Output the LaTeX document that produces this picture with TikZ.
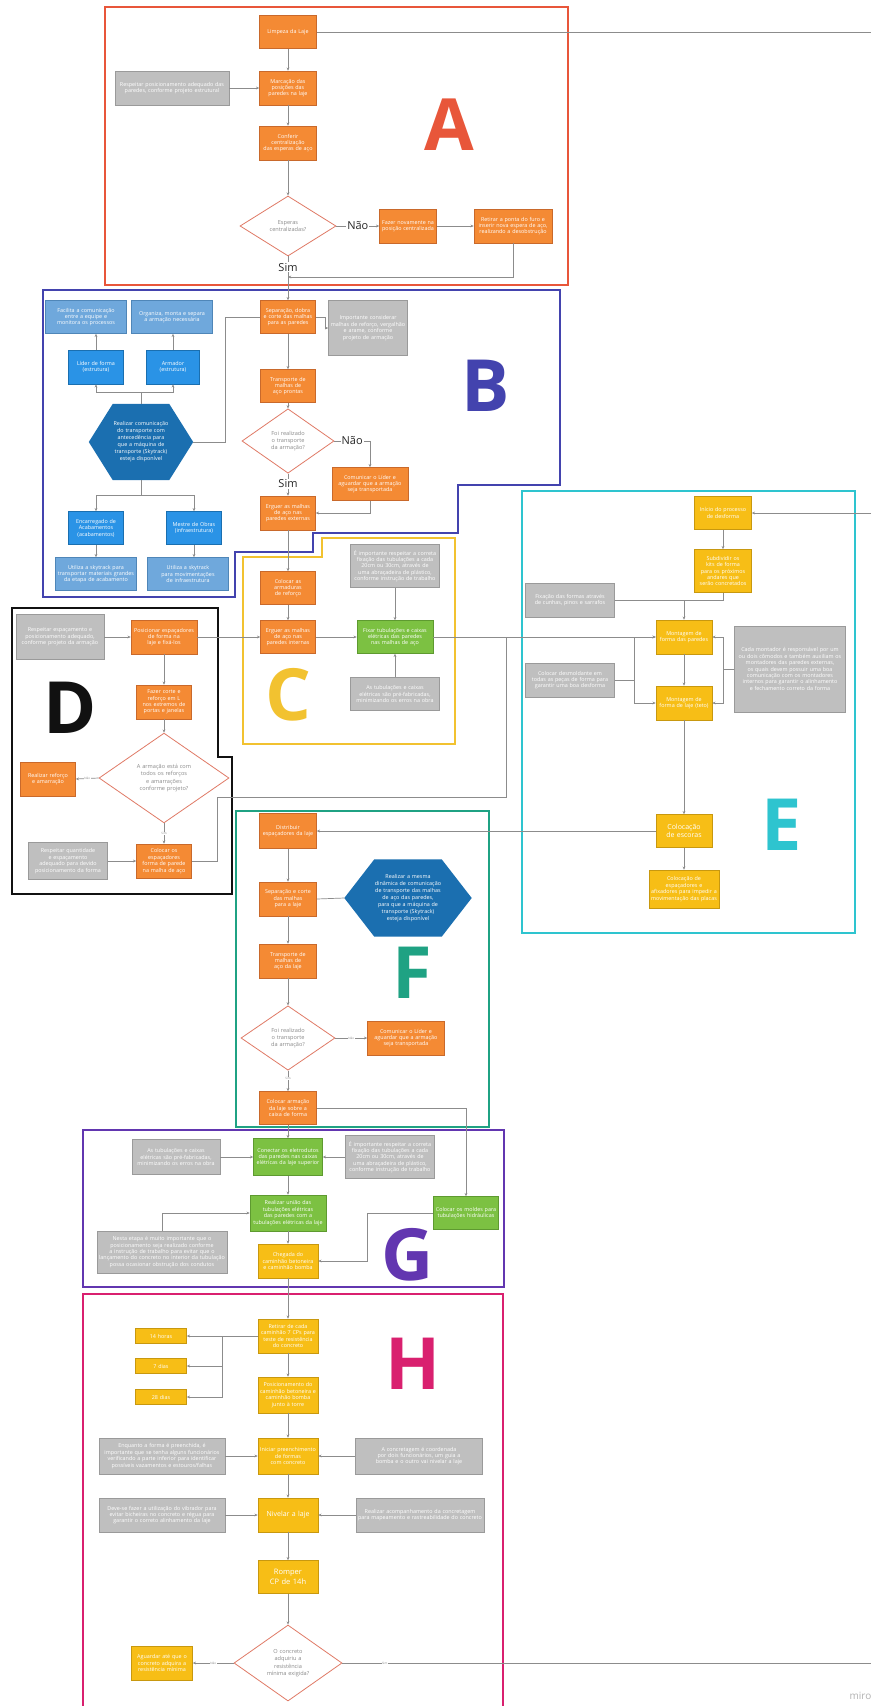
\documentclass[tikz,border=0pt]{standalone}
\usepackage{fontspec}
\setmainfont{Open Sans}
\usetikzlibrary{shapes.geometric,arrows.meta,calc}
\pgfdeclarelayer{bg}
\pgfsetlayers{bg,main}
\hyphenpenalty=10000
\exhyphenpenalty=10000

\definecolor{corange}{HTML}{F48A34}
\definecolor{corangeD}{HTML}{C9692B}
\definecolor{cgray}{HTML}{BFBFBF}
\definecolor{cgrayD}{HTML}{9A9A9A}
\definecolor{cblue}{HTML}{2A93E6}
\definecolor{cblueD}{HTML}{1A6FB0}
\definecolor{clblue}{HTML}{6FA8DC}
\definecolor{clblueD}{HTML}{4F86B8}
\definecolor{chex}{HTML}{1B6FB0}
\definecolor{cgreen}{HTML}{7CC142}
\definecolor{cgreenD}{HTML}{5E9A30}
\definecolor{cyellow}{HTML}{F7BE16}
\definecolor{cyellowD}{HTML}{C8980F}
\definecolor{cdia}{HTML}{E07A66}
\definecolor{cdtext}{HTML}{8A8A8A}
\definecolor{cline}{HTML}{8C8C8C}
\definecolor{frA}{HTML}{E8563A}
\definecolor{frB}{HTML}{4343AE}
\definecolor{frC}{HTML}{F2C230}
\definecolor{frD}{HTML}{111111}
\definecolor{frE}{HTML}{2EC4CF}
\definecolor{frF}{HTML}{1FA283}
\definecolor{frG}{HTML}{6236B0}
\definecolor{frH}{HTML}{D9206F}

\tikzset{
  sz/.code 2 args={\pgfmathsetmacro\bxtw{#1-4}%
    \edef\bxtmp{\noexpand\pgfkeysalso{minimum width=#1pt, minimum height=#2pt, text width=\bxtw pt}}\bxtmp},
  bx/.style={rectangle, draw, line width=0.6pt, inner sep=2pt, align=center,
    text=white, font=\fontsize{5.4}{6.4}\selectfont},
  ob/.style={bx, fill=corange, draw=corangeD},
  gb/.style={bx, fill=cgray, draw=cgrayD},
  bb/.style={bx, fill=cblue, draw=cblueD},
  lb/.style={bx, fill=clblue, draw=clblueD},
  grb/.style={bx, fill=cgreen, draw=cgreenD},
  yb/.style={bx, fill=cyellow, draw=cyellowD},
  dm/.style={diamond, draw=cdia, fill=white, line width=0.8pt, inner sep=0pt,
    align=center, text=cdtext, font=\fontsize{5.6}{7.4}\selectfont},
  hexlbl/.style={rectangle, inner sep=0pt, align=center, text=white,
    font=\fontsize{5.4}{7}\selectfont},
  frame/.style={line width=2.4pt},
  letter/.style={anchor=base, font=\fontsize{72}{72}\selectfont\bfseries},
  ln/.style={draw=cline, line width=0.7pt},
  ar/.style={ln, -{Stealth[length=3.2pt,width=2.8pt]}},
  big/.style={fill=white, inner sep=1pt, text=black!85, font=\fontsize{11}{11}\selectfont},
  tinylbl/.style={fill=white, inner sep=0.5pt, text=cdtext, font=\fontsize{3}{3}\selectfont},
}

\begin{document}
\begin{tikzpicture}[x=1pt,y=-1pt]
\useasboundingbox (0,0) rectangle (871,1706);
\begin{pgfonlayer}{bg}
\fill[white] (0,0) rectangle (871,1706);
\end{pgfonlayer}

% ---------- section frames ----------
\draw[frame, frA] (105,7) rectangle (568,285);
\draw[frame, frB] (43,290) -- (560,290) -- (560,485) -- (458,485) -- (458,533)
  -- (313,533) -- (313,552) -- (235,552) -- (235,597) -- (43,597) -- cycle;
\draw[frame, frC] (322,538) -- (455,538) -- (455,744) -- (243,744) -- (243,557)
  -- (322,557) -- cycle;
\draw[frame, frD] (12,608) -- (218,608) -- (218,757) -- (232,757) -- (232,894)
  -- (12,894) -- cycle;
\draw[frame, frE] (522,491) rectangle (855,933);
\draw[frame, frF] (236,811) rectangle (489,1127);
\draw[frame, frG] (83,1130) rectangle (504,1287);
\draw[frame, frH] (83,1294) rectangle (503,1714);

% ---------- section letters ----------
\node[letter, text=frA] (letA) at (449,150) {A};
\node[letter, text=frB] (letB) at (486,411) {B};
\node[letter, text=frC] (letC) at (288,720) {C};
\node[letter, text=frD] (letD) at (70,733) {D};
\node[letter, text=frE] (letE) at (782,850) {E};
\node[letter, text=frF] (letF) at (412,998) {F};
\node[letter, text=frG] (letG) at (408,1280) {G};
\node[letter, text=frH] (letH) at (413,1389) {H};

% ---------- A: marcação ----------
\node[ob, sz={57}{33}] (limpeza) at (288,32) {Limpeza da Laje};
\node[ob, sz={57}{34}] (marcacao) at (288,88) {Marcação das posições das paredes na laje};
\node[gb, sz={114}{34}] (respA) at (172,88) {Respeitar posicionamento adequado das paredes, conforme projeto estrutural};
\node[ob, sz={57}{34}] (conferir) at (288,143) {Conferir centralização das esperas de aço};
\node[dm, minimum width=96pt, minimum height=60pt, text width=46pt] (dA) at (288,226) {Esperas centralizadas?};
\node[ob, sz={57}{34}] (fazer) at (408,226) {Fazer novamente na posição centralizada};
\node[ob, sz={78}{34}] (retirar) at (513,226) {Retirar a ponta do furo e inserir nova espera de aço, realizando a desobstrução};

% ---------- B: armação das paredes ----------
\node[ob, sz={55}{33}] (sepB) at (288,317) {Separação, dobra e corte das malhas para as paredes};
\node[gb, sz={79}{55}] (grayB) at (368,328) {Importante considerar malhas de reforço, vergalhão e arame, conforme projeto de armação};
\node[ob, sz={55}{33}] (transB) at (288,386) {Transporte de malhas de aço prontas};
\node[dm, minimum width=92pt, minimum height=58pt, text width=44pt] (dB) at (288,441) {Foi realizado o transporte da armação?};
\node[ob, sz={76}{33}] (comB) at (370,484) {Comunicar o Líder e aguardar que a armação seja transportada};
\node[ob, sz={55}{34}] (erguerE) at (288,513) {Erguer as malhas de aço nas paredes externas};

\node[hexlbl, minimum width=104pt, minimum height=76pt, text width=56pt] (hexB) at (141,442)
  {Realizar comunicação do transporte com antecedência para que a máquina de transporte (Skytrack) esteja disponível};
\begin{pgfonlayer}{bg}
\fill[chex] (hexB.west) -- ($(hexB.north west)+(24,0)$) -- ($(hexB.north east)+(-24,0)$)
  -- (hexB.east) -- ($(hexB.south east)+(-24,0)$) -- ($(hexB.south west)+(24,0)$) -- cycle;
\end{pgfonlayer}

\node[bb, sz={55}{34}] (lider) at (96,367) {Líder de forma (estrutura)};
\node[bb, sz={53}{34}] (armador) at (173,367) {Armador (estrutura)};
\node[lb, sz={81}{33}] (facilita) at (86,317) {Facilita a comunicação entre a equipe e monitora os processos};
\node[lb, sz={81}{33}] (organiza) at (172,317) {Organiza, monta e separa a armação necessária};
\node[bb, sz={55}{33}] (enc) at (96,528) {Encarregado de Acabamentos (acabamentos)};
\node[bb, sz={55}{33}] (mestre) at (194,528) {Mestre de Obras (infraestrutura)};
\node[lb, sz={81}{33}] (util1) at (96,574) {Utiliza a skytrack para transportar materiais grandes da etapa de acabamento};
\node[lb, sz={81}{33}] (util2) at (188,574) {Utiliza a skytrack para movimentações de infraestrutura};

% ---------- C: malhas internas ----------
\node[ob, sz={55}{33}] (colArm) at (288,588) {Colocar as armaduras de reforço};
\node[ob, sz={55}{33}] (erguerI) at (288,637) {Erguer as malhas de aço nas paredes internas};
\node[grb, sz={76}{33}] (fixar) at (395,637) {Fixar tubulações e caixas elétricas das paredes nas malhas de aço};
\node[gb, sz={89}{43}] (grayC1) at (395,566) {É importante respeitar a correta fixação das tubulações a cada 20cm ou 30cm, através de uma abraçadeira de plástico, conforme instrução de trabalho};
\node[gb, sz={89}{33}] (grayC2) at (395,694) {As tubulações e caixas elétricas são pré-fabricadas, minimizando os erros na obra};

% ---------- D: espaçadores ----------
\node[gb, sz={88}{45}] (respD) at (60,637) {Respeitar espaçamento e posicionamento adequado, conforme projeto da armação};
\node[ob, sz={66}{34}] (posD) at (164,637) {Posicionar espaçadores de forma na laje e fixá-los};
\node[ob, sz={55}{34}] (fazerD) at (164,702) {Fazer corte e reforço em L nos extremos de portas e janelas};
\node[dm, minimum width=130pt, minimum height=71pt, text width=62pt] (dD) at (164,778) {A armação está com todos os reforços e amarrações conforme projeto?};
\node[ob, sz={55}{34}] (realD) at (48,779) {Realizar reforço e amarração};
\node[ob, sz={55}{34}] (colD) at (164,861) {Colocar os espaçadores forma de parede na malha de aço};
\node[gb, sz={79}{37}] (respQ) at (68,861) {Respeitar quantidade e espaçamento adequado para devido posicionamento da forma};

% ---------- E: formas ----------
\node[yb, sz={57}{33}] (inicio) at (723,513) {Início do processo de desforma};
\node[yb, sz={57}{43}] (subd) at (723,571) {Subdividir os kits de forma para os próximos andares que serão concretados};
\node[gb, sz={89}{34}] (fixacao) at (570,600) {Fixação das formas através de cunhas, pinos e sarrafos};
\node[yb, sz={56}{34}] (montP) at (684,637) {Montagem de forma das paredes};
\node[gb, sz={89}{34}] (desm) at (570,680) {Colocar desmoldante em todas as peças de forma para garantir uma boa desforma};
\node[yb, sz={56}{34}] (montL) at (684,703) {Montagem de forma de laje (teto)};
\node[gb, sz={111}{86}] (cada) at (790,669) {Cada montador é responsável por um ou dois cômodos e também auxiliam os montadores das paredes externas, os quais devem possuir uma boa comunicação com os montadores internos para garantir o alinhamento e fechamento correto da forma};
\node[yb, sz={56}{33}, font=\fontsize{7}{8.5}\selectfont] (escoras) at (684,831) {Colocação de escoras};
\node[yb, sz={70}{38}] (espac) at (684,889) {Colocação de espaçadores e afixadores para impedir a movimentação das placas};

% ---------- F: armação da laje ----------
\node[ob, sz={57}{35}] (distrib) at (288,831) {Distribuir espaçadores da laje};
\node[ob, sz={57}{34}] (sepF) at (288,899) {Separação e corte das malhas para a laje};
\node[hexlbl, minimum width=127pt, minimum height=77pt, text width=68pt] (hexF) at (408,898)
  {Realizar a mesma dinâmica de comunicação de transporte das malhas de aço das paredes, para que a máquina de transporte (Skytrack) esteja disponível};
\begin{pgfonlayer}{bg}
\fill[chex] (hexF.west) -- ($(hexF.north west)+(30,0)$) -- ($(hexF.north east)+(-30,0)$)
  -- (hexF.east) -- ($(hexF.south east)+(-30,0)$) -- ($(hexF.south west)+(30,0)$) -- cycle;
\end{pgfonlayer}
\node[ob, sz={57}{34}] (transF) at (288,961) {Transporte de malhas de aço da laje};
\node[dm, minimum width=94pt, minimum height=60pt, text width=44pt] (dF) at (288,1038) {Foi realizado o transporte da armação?};
\node[ob, sz={77}{34}] (comF) at (406,1038) {Comunicar o Líder e aguardar que a armação seja transportada};
\node[ob, sz={57}{33}] (colF) at (288,1108) {Colocar armação da laje sobre a caixa de forma};

% ---------- G: instalações ----------
\node[grb, sz={69}{37}] (conG) at (288,1157) {Conectar os eletrodutos das paredes nas caixas elétricas da laje superior};
\node[gb, sz={88}{35}] (grayG1) at (176,1157) {As tubulações e caixas elétricas são pré-fabricadas, minimizando os erros na obra};
\node[gb, sz={89}{43}] (grayG2) at (390,1157) {É importante respeitar a correta fixação das tubulações a cada 20cm ou 30cm, através de uma abraçadeira de plástico, conforme instrução de trabalho};
\node[grb, sz={76}{36}] (uniao) at (288,1213) {Realizar união das tubulações elétricas das paredes com a tubulações elétricas da laje};
\node[gb, sz={130}{42}] (nesta) at (162,1252) {Nesta etapa é muito importante que o posicionamento seja realizado conforme a instrução de trabalho para evitar que o lançamento do concreto no interior da tubulação possa ocasionar obstrução dos condutos};
\node[grb, sz={65}{33}] (moldes) at (466,1213) {Colocar os moldes para tubulações hidráulicas};
\node[yb, sz={60}{34}] (chegada) at (288,1261) {Chegada do caminhão betoneira e caminhão bomba};

% ---------- H: concretagem ----------
\node[yb, sz={60}{34}] (retirarH) at (288,1336) {Retirar de cada caminhão 7 CPs para teste de resistência do concreto};
\node[yb, sz={51}{15}] (h14) at (161,1336) {14 horas};
\node[yb, sz={51}{15}] (d7) at (161,1366) {7 dias};
\node[yb, sz={51}{15}] (d28) at (161,1397) {28 dias};
\node[yb, sz={60}{36}] (posH) at (288,1395) {Posicionamento do caminhão betoneira e caminhão bomba junto à torre};
\node[yb, sz={60}{36}] (iniciar) at (288,1456) {Iniciar preenchimento de formas com concreto};
\node[gb, sz={126}{36}] (enq) at (162,1456) {Enquanto a forma é preenchida, é importante que se tenha alguns funcionários verificando a parte inferior para identificar possíveis vazamentos e estouros/falhas};
\node[gb, sz={127}{36}] (conc) at (419,1456) {A concretagem é coordenada por dois funcionários, um guia a bomba e o outro vai nivelar a laje};
\node[yb, sz={60}{34}, font=\fontsize{7}{8.5}\selectfont] (nivelar) at (288,1515) {Nivelar a laje};
\node[gb, sz={126}{34}] (deve) at (162,1515) {Deve-se fazer a utilização do vibrador para evitar bicheiras no concreto e régua para garantir o correto alinhamento da laje};
\node[gb, sz={128}{34}] (realiz) at (420,1515) {Realizar acompanhamento da concretagem para mapeamento e rastreabilidade do concreto};
\node[yb, sz={60}{33}, font=\fontsize{7.5}{9.5}\selectfont] (romper) at (288,1577) {Romper CP de 14h};
\node[dm, minimum width=108pt, minimum height=76pt, text width=48pt] (dH) at (288,1663) {O concreto adquiriu a resistência mínima exigida?};
\node[yb, sz={61}{34}] (aguardar) at (162,1663) {Aguardar até que o concreto adquira a resistência mínima};

\node[anchor=base west, text=black!30, font=\fontsize{10}{10}\selectfont] (miro) at (846,1699) {miro};

% ---------- free ends ----------
\coordinate (edgeA) at (871,32);
\coordinate (edgeE) at (871,513);
\coordinate (edgeH) at (871,1663);
\coordinate (jA) at (288,277);
\coordinate (jD1) at (506,797);
\coordinate (jD2) at (506,637);
\coordinate (jE) at (684,600);

% ---------- connectors A ----------
\draw[ln] (limpeza.east) -- (edgeA);
\draw[ar] (limpeza.south) -- (marcacao.north);
\draw[ar] (respA.east) -- (marcacao.west);
\draw[ar] (marcacao.south) -- (conferir.north);
\draw[ar] (conferir.south) -- (dA.north);
\draw[ar] (dA.east) -- node[big]{Não} (fazer.west);
\draw[ar] (fazer.east) -- (retirar.west);
\draw[ar] (dA.south) -- node[big, pos=0.25]{Sim} (sepB.north);
\draw[ar] (retirar.south) |- (jA);

% ---------- connectors B ----------
\draw[ar] (sepB.east) -- ++(10,0) |- (grayB.west);
\draw[ar] (sepB.south) -- (transB.north);
\draw[ar] (transB.south) -- (dB.north);
\draw[ar] (dB.east) -| node[big, pos=0.25]{Não} (comB.north);
\draw[ar] (dB.south) -- node[big, pos=0.46]{Sim} (erguerE.north);
\draw[ar] (comB.south) |- (erguerE.east);
\draw[ln] (hexB.east) -- ++(32,0) |- (sepB.west);
\draw[ar] (hexB.north) -- ++(0,-11) -| (lider.south);
\draw[ar] (hexB.north) -- ++(0,-11) -| (armador.south);
\draw[ar] (lider.north) -- (lider.north |- facilita.south);
\draw[ar] (armador.north) -- (armador.north |- organiza.south);
\draw[ar] (hexB.south) -- ++(0,15) -| (enc.north);
\draw[ar] (hexB.south) -- ++(0,15) -| (mestre.north);
\draw[ar] (enc.south) -- (enc.south |- util1.north);
\draw[ar] (mestre.south) -- (mestre.south |- util2.north);

% ---------- connectors C ----------
\draw[ar] (erguerE.south) -- (colArm.north);
\draw[ar] (colArm.south) -- (erguerI.north);
\draw[ar] (erguerI.east) -- (fixar.west);
\draw[ar] (grayC1.south) -- (fixar.north);
\draw[ar] (grayC2.north) -- (fixar.south);
\draw[ar] (fixar.east) -- (montP.west);

% ---------- connectors D ----------
\draw[ar] (respD.east) -- (posD.west);
\draw[ar] (posD.east) -- (erguerI.west);
\draw[ar] (posD.south) -- (fazerD.north);
\draw[ar] (fazerD.south) -- (dD.north);
\draw[ar] (dD.west) -- node[tinylbl]{Não} (realD.east);
\draw[ar] (dD.south) -- node[tinylbl]{Sim} (colD.north);
\draw[ar] (respQ.east) -- (colD.west);
\draw[ln] (colD.east) -- ++(26,0) |- (jD1) -- (jD2);

% ---------- connectors E ----------
\draw[ar] (edgeE) -- (inicio.east);
\draw[ar] (inicio.south) -- (subd.north);
\draw[ar] (subd.south) |- (jE) -- (montP.north);
\draw[ln] (fixacao.east) -- (jE);
\draw[ar] (montP.south) -- (montL.north);
\draw[ar] (desm.east) -- ++(20,0) |- (montP.west);
\draw[ar] (desm.east) -- ++(20,0) |- (montL.west);
\draw[ar] (cada.west) -- ++(-11,0) |- (montP.east);
\draw[ar] (cada.west) -- ++(-11,0) |- (montL.east);
\draw[ar] (montL.south) -- (escoras.north);
\draw[ar] (escoras.south) -- (espac.north);
\draw[ar] (escoras.west) -- (distrib.east);

% ---------- connectors F ----------
\draw[ar] (distrib.south) -- (sepF.north);
\draw[ln] (sepF.east) -- (hexF.west);
\draw[ar] (sepF.south) -- (transF.north);
\draw[ar] (transF.south) -- (dF.north);
\draw[ar] (dF.east) -- node[tinylbl]{Não} (comF.west);
\draw[ar] (dF.south) -- node[tinylbl, pos=0.4]{Sim} (colF.north);
\draw[ar] (colF.east) -| (moldes.north);
\draw[ar] (colF.south) -- (conG.north);

% ---------- connectors G ----------
\draw[ar] (grayG1.east) -- (conG.west);
\draw[ar] (grayG2.west) -- (conG.east);
\draw[ar] (conG.south) -- (uniao.north);
\draw[ar] (nesta.north) |- (uniao.west);
\draw[ar] (uniao.south) -- (chegada.north);
\draw[ar] (moldes.west) -- ++(-66,0) |- (chegada.east);
\draw[ar] (chegada.south) -- (retirarH.north);

% ---------- connectors H ----------
\draw[ln] (retirarH.west) -- ++(-35,0) coordinate (jH);
\draw[ar] (jH) -- (h14.east);
\draw[ar] (jH) |- (d7.east);
\draw[ar] (jH) |- (d28.east);
\draw[ar] (retirarH.south) -- (posH.north);
\draw[ar] (posH.south) -- (iniciar.north);
\draw[ar] (enq.east) -- (iniciar.west);
\draw[ar] (conc.west) -- (iniciar.east);
\draw[ar] (iniciar.south) -- (nivelar.north);
\draw[ar] (deve.east) -- (nivelar.west);
\draw[ar] (realiz.west) -- (nivelar.east);
\draw[ar] (nivelar.south) -- (romper.north);
\draw[ar] (romper.south) -- (dH.north);
\draw[ar] (dH.west) -- node[tinylbl]{Não} (aguardar.east);
\draw[ln] (dH.east) -- node[tinylbl, pos=0.08]{Sim} (edgeH);
\end{tikzpicture}
\end{document}
